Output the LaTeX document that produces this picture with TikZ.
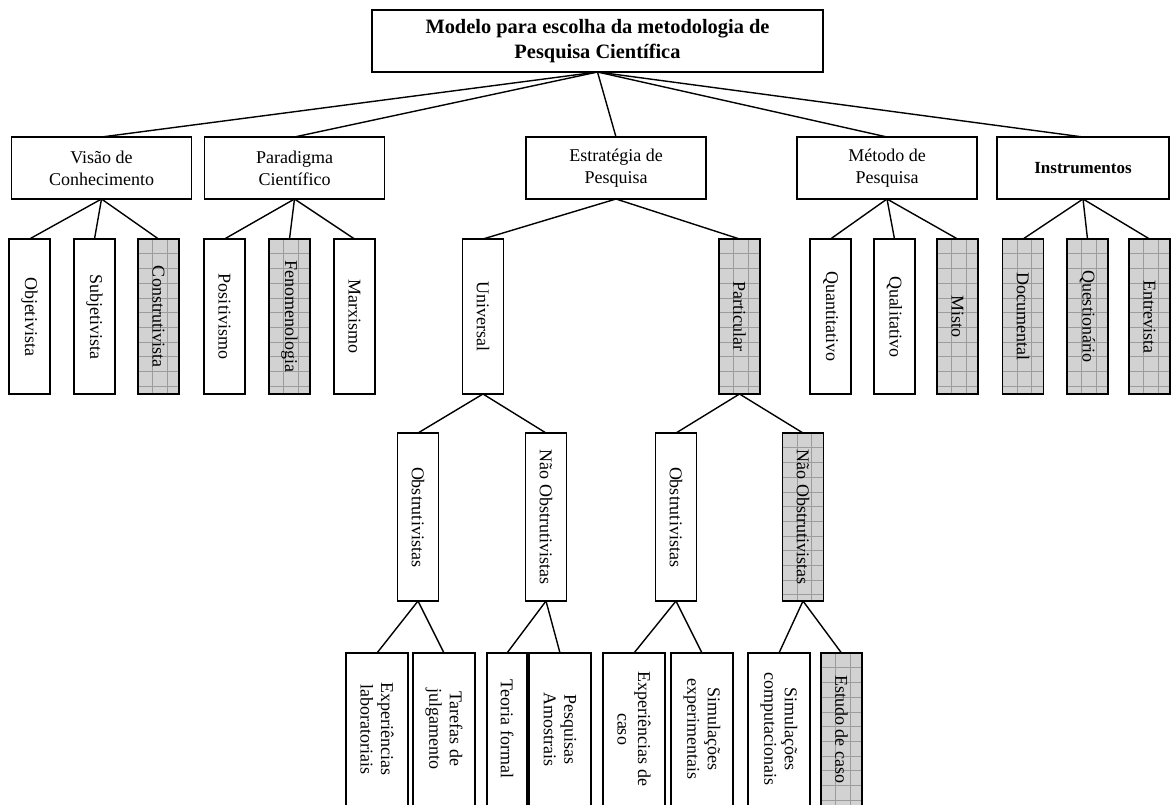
\documentclass[tikz,border=0pt]{standalone}
\usepackage{fontspec}
\setmainfont{Liberation Serif}
\definecolor{cellgray}{HTML}{D2D2D2}
\definecolor{gridgray}{HTML}{9C9C9C}
\tikzset{
  box/.style={draw=black, line width=1.6pt, fill=white, inner sep=0pt, outer sep=0pt},
  titlebox/.style={box, minimum width=451pt, minimum height=62pt, align=center,
    font=\fontsize{20.4}{24.5}\selectfont\bfseries},
  hbox/.style={box, minimum width=180pt, minimum height=62pt, align=center,
    font=\fontsize{18}{22}\selectfont},
  vbox/.style={box, minimum width=41pt, minimum height=155pt},
  mbox/.style={box, minimum width=41pt, minimum height=168pt},
  lbox/.style={box, minimum width=62pt, minimum height=155pt},
  sbox/.style={box, minimum width=40pt, minimum height=155pt},
  shaded/.style={fill=cellgray, path picture={
    \foreach \k in {1,...,4}{
      \draw[gridgray, line width=0.6pt]
        ([xshift=\k*14.6pt]path picture bounding box.north west) --
        ([xshift=\k*14.6pt]path picture bounding box.south west);}
    \foreach \k in {1,...,12}{
      \draw[gridgray, line width=0.6pt]
        ([yshift=-\k*14.7pt]path picture bounding box.north west) --
        ([yshift=-\k*14.7pt]path picture bounding box.north east);}
  }},
  vtext/.style={rotate=-90, align=center, inner sep=0pt,
    font=\fontsize{18}{20.5}\selectfont},
  link/.style={line width=1.4pt},
}
\begin{document}
\begin{tikzpicture}[x=1pt, y=-1pt]
\useasboundingbox (0,0) rectangle (1172,805);
\clip (0,0) rectangle (1172,805);

% root
\node[titlebox] (root) at (597.5,41) {Modelo para escolha da metodologia de\\Pesquisa Científica};

% first level
\node[hbox] (vis) at (101.5,168) {Visão de\\Conhecimento};
\node[hbox] (par) at (294.5,168) {Paradigma\\Científico};
\node[hbox] (est) at (616,168) {Estratégia de\\Pesquisa};
\node[hbox] (met) at (887,168) {Método de\\Pesquisa};
\node[hbox, minimum width=172pt, font=\fontsize{17}{20}\selectfont\bfseries] (ins) at (1083,168) {Instrumentos};

% second level
\node[vbox] (obj) at (29.5,316.5) {};
\node[vtext] (obj-t) at (obj) {Objetivista};
\node[vbox] (sub) at (94.5,316.5) {};
\node[vtext] (sub-t) at (sub) {Subjetivista};
\node[vbox, shaded] (con) at (158.5,316.5) {};
\node[vtext] (con-t) at (con) {Construtivista};
\node[vbox] (pos) at (224.5,316.5) {};
\node[vtext] (pos-t) at (pos) {Positivismo};
\node[vbox, shaded] (fen) at (289.5,316.5) {};
\node[vtext] (fen-t) at (fen) {Fenomenologia};
\node[vbox] (mar) at (354.5,316.5) {};
\node[vtext] (mar-t) at (mar) {Marxismo};
\node[vbox] (uni) at (483,316.5) {};
\node[vtext] (uni-t) at (uni) {Universal};
\node[vbox, shaded] (prt) at (739.5,316.5) {};
\node[vtext] (prt-t) at (prt) {Particular};
\node[vbox] (qnt) at (830.5,316.5) {};
\node[vtext] (qnt-t) at (qnt) {Quantitativo};
\node[vbox] (qlt) at (894.5,316.5) {};
\node[vtext] (qlt-t) at (qlt) {Qualitativo};
\node[vbox, shaded] (mis) at (957.5,316.5) {};
\node[vtext] (mis-t) at (mis) {Misto};
\node[vbox, shaded] (doc) at (1023,316.5) {};
\node[vtext] (doc-t) at (doc) {Documental};
\node[vbox, shaded] (que) at (1087.5,316.5) {};
\node[vtext] (que-t) at (que) {Questionário};
\node[vbox, shaded] (ent) at (1149.5,316.5) {};
\node[vtext] (ent-t) at (ent) {Entrevista};

% third level
\node[mbox] (ob1) at (418,517) {};
\node[vtext] (ob1-t) at (ob1) {Obstrutivistas};
\node[mbox] (no1) at (546,517) {};
\node[vtext] (no1-t) at (no1) {Não Obstrutivistas};
\node[mbox] (ob2) at (676,517) {};
\node[vtext] (ob2-t) at (ob2) {Obstrutivistas};
\node[mbox, shaded] (no2) at (803,517) {};
\node[vtext] (no2-t) at (no2) {Não Obstrutivistas};

% fourth level
\node[lbox] (exl) at (377,730.5) {};
\node[vtext] (exl-t) at (377,729) {Experiências\\laboratoriais};
\node[lbox] (taj) at (444,730.5) {};
\node[vtext] (taj-t) at (444,729) {Tarefas de\\julgamento};
\node[sbox] (tef) at (507,730.5) {};
\node[vtext] (tef-t) at (507,729) {Teoria formal};
\node[lbox] (pam) at (560,730.5) {};
\node[vtext] (pam-t) at (560,729) {Pesquisas\\Amostrais};
\node[lbox] (exc) at (634,730.5) {};
\node[vtext] (exc-t) at (634,729) {Experiências de\\caso};
\node[lbox] (sie) at (702,730.5) {};
\node[vtext] (sie-t) at (702,729) {Simulações\\experimentais};
\node[lbox] (sic) at (779,730.5) {};
\node[vtext] (sic-t) at (779,729) {Simulações\\computacionais};
\node[vbox, shaded] (edc) at (841.5,730.5) {};
\node[vtext] (edc-t) at (841.5,729) {Estudo de caso};

% connectors
\foreach \c in {vis,par,est,met,ins} \draw[link] (root.south) -- (\c.north);
\foreach \c in {obj,sub,con} \draw[link] (vis.south) -- (\c.north);
\foreach \c in {pos,fen,mar} \draw[link] (par.south) -- (\c.north);
\foreach \c in {uni,prt} \draw[link] (est.south) -- (\c.north);
\foreach \c in {qnt,qlt,mis} \draw[link] (met.south) -- (\c.north);
\foreach \c in {doc,que,ent} \draw[link] (ins.south) -- (\c.north);
\foreach \c in {ob1,no1} \draw[link] (uni.south) -- (\c.north);
\foreach \c in {ob2,no2} \draw[link] (prt.south) -- (\c.north);
\foreach \c in {exl,taj} \draw[link] (ob1.south) -- (\c.north);
\foreach \c in {tef,pam} \draw[link] (no1.south) -- (\c.north);
\foreach \c in {exc,sie} \draw[link] (ob2.south) -- (\c.north);
\foreach \c in {sic,edc} \draw[link] (no2.south) -- (\c.north);
\end{tikzpicture}
\end{document}
